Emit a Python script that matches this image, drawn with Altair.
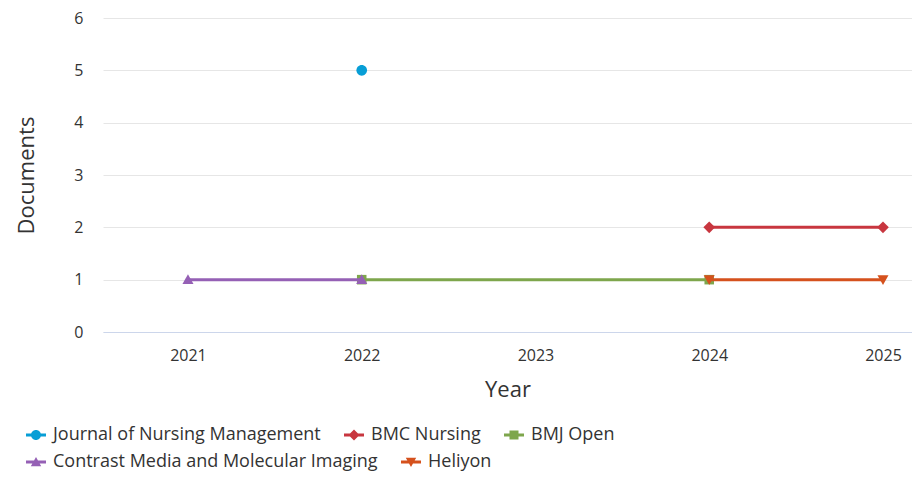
import altair as alt
import pandas as pd

# ---- data ----
series_names = [
    "Journal of Nursing Management",
    "BMC Nursing",
    "BMJ Open",
    "Contrast Media and Molecular Imaging",
    "Heliyon",
]
series_years = [
    [2022],
    [2024, 2025],
    [2022, 2024],
    [2021, 2022],
    [2024, 2025],
]
series_docs = [
    [5],
    [2, 2],
    [1, 1],
    [1, 1],
    [1, 1],
]
series_colors = ["#079ed6", "#c8363f", "#7ea64c", "#9560b5", "#d5511d"]
year_ticks = [2021, 2022, 2023, 2024, 2025]
doc_ticks = [0, 1, 2, 3, 4, 5, 6]

# marker shapes (unit-box SVG paths, scaled by mark size)
series_shapes = [
    "M0.5,0A0.5,0.5 0 1,1 -0.5,0A0.5,0.5 0 1,1 0.5,0Z",
    "M0,-0.55L0.55,0L0,0.55L-0.55,0Z",
    "M-0.45,-0.45L0.45,-0.45L0.45,0.45L-0.45,0.45Z",
    "M0,-0.5L0.52,0.42L-0.52,0.42Z",
    "M-0.52,-0.42L0.52,-0.42L0,0.5Z",
]
# legend symbol = short line segment + marker
LEG_BAR = "M-1,-0.15L1,-0.15L1,0.15L-1,0.15Z"
legend_shapes = [LEG_BAR + s for s in series_shapes]

rows = []
for name, ys, ds in zip(series_names, series_years, series_docs):
    for y, d in zip(ys, ds):
        rows.append({"series": name, "year": y, "docs": d})
df = pd.DataFrame(rows)

FONT = "Open Sans"
TXT = "#333333"

x_enc = alt.X(
    "year:Q",
    scale=alt.Scale(domain=[2020.511, 2025.167], nice=False, zero=False),
    axis=alt.Axis(
        values=year_ticks, format="d", grid=False, ticks=False,
        domainColor="#ccd6eb", domainWidth=1,
        labelFont=FONT, labelFontSize=16, labelColor=TXT, labelPadding=15,
        title="Year", titleFont=FONT, titleFontSize=22, titleFontWeight="normal",
        titleColor=TXT, titlePadding=16,
    ),
)
y_enc = alt.Y(
    "docs:Q",
    scale=alt.Scale(domain=[0, 6], nice=False),
    axis=alt.Axis(
        values=doc_ticks, grid=True, gridColor="#e6e6e6", ticks=False, domain=False,
        labelFont=FONT, labelFontSize=16, labelColor=TXT, labelPadding=20,
        title="Documents", titleFont=FONT, titleFontSize=22, titleFontWeight="normal",
        titleColor=TXT, titlePadding=35,
    ),
)


def row_legend(ly):
    return alt.Legend(
        orient="none", legendX=-77, legendY=ly, direction="horizontal", title=None,
        symbolSize=400, symbolStrokeWidth=0, symbolOpacity=1,
        labelFont=FONT, labelFontSize=18, labelColor=TXT, labelLimit=0,
        labelOffset=7, columnPadding=23,
    )


def layers(names, colors, shapes, leg_shapes, ly):
    base = alt.Chart(df).transform_filter(
        alt.FieldOneOfPredicate(field="series", oneOf=names)
    )
    cscale = alt.Scale(domain=names, range=colors)
    ln = base.mark_line(strokeWidth=3).encode(
        x=x_enc, y=y_enc,
        color=alt.Color("series:N", scale=cscale, legend=None),
    )
    pt = base.mark_point(filled=True, opacity=1, size=450, strokeWidth=0).encode(
        x=x_enc, y=y_enc,
        color=alt.Color("series:N", scale=cscale, legend=None),
        shape=alt.Shape("series:N", scale=alt.Scale(domain=names, range=shapes),
                        legend=None),
    )
    lg = base.mark_point(filled=True, opacity=0, size=400, strokeWidth=0).encode(
        x=x_enc, y=y_enc,
        color=alt.Color("series:N", scale=cscale, legend=row_legend(ly)),
        shape=alt.Shape("series:N", scale=alt.Scale(domain=names, range=leg_shapes),
                        legend=row_legend(ly)),
    )
    return [ln, pt, lg]


row_a = layers(series_names[:3], series_colors[:3], series_shapes[:3],
               legend_shapes[:3], 407)
row_b = layers(series_names[3:], series_colors[3:], series_shapes[3:],
               legend_shapes[3:], 434)

chart = (
    alt.layer(*row_a, *row_b)
    .resolve_scale(color="independent", shape="independent")
    .properties(
        width=809, height=314,
        padding={"left": 95, "top": 10, "right": 0, "bottom": 139},
        autosize=alt.AutoSizeParams(type="none"),
    )
    .configure_view(stroke=None)
)

chart.save("out.html", embed_options={"renderer": "svg", "actions": False})
